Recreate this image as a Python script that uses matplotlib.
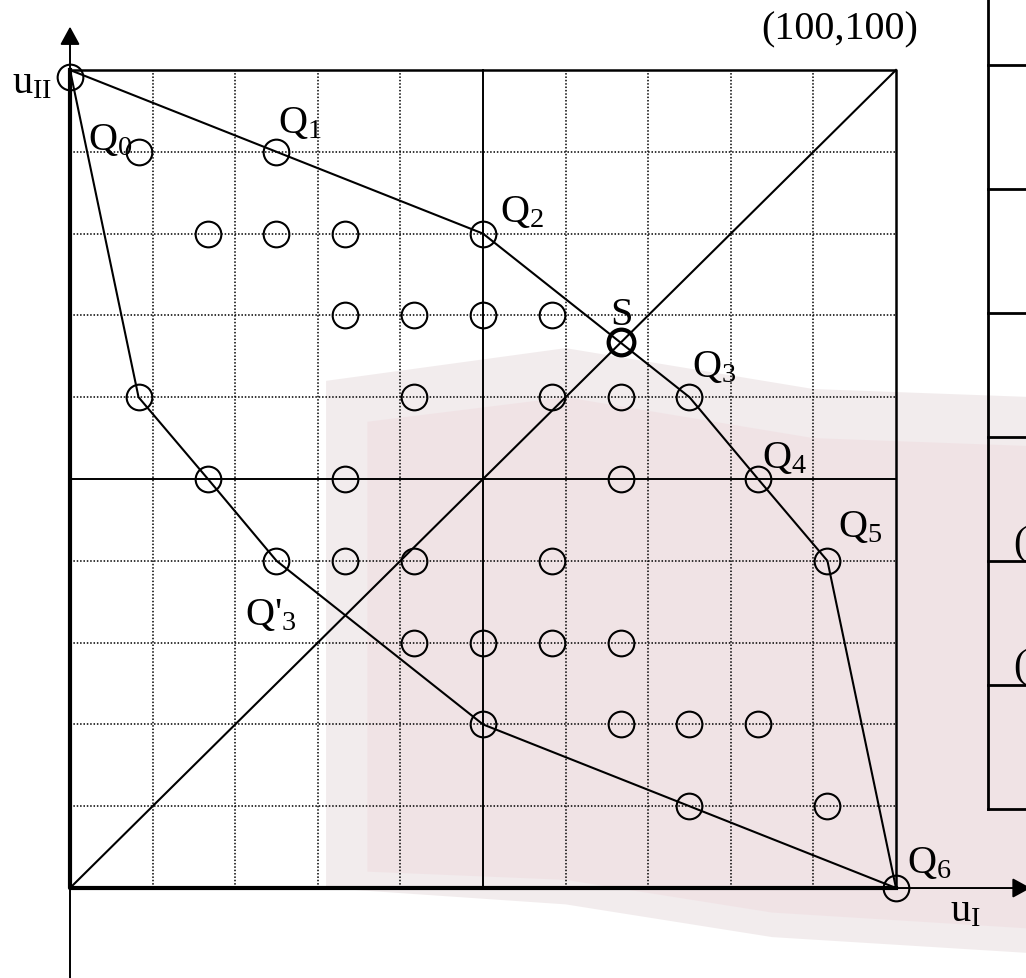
import matplotlib.pyplot as plt
import numpy as np
from matplotlib.patches import Polygon

plt.rcParams['font.family'] = ['Liberation Serif', 'DejaVu Serif']
plt.rcParams['mathtext.fontset'] = 'custom'
plt.rcParams['mathtext.rm'] = 'Liberation Serif'
plt.rcParams['mathtext.it'] = 'Liberation Serif:italic'

# lattice points (u_I, u_II) marked with circles
pts_x = [0, 8.3, 25,
         16.7, 25, 33.3, 50,
         33.3, 41.7, 50, 58.3,
         8.3, 41.7, 58.3, 66.7, 75,
         16.7, 33.3, 66.7, 83.3,
         25, 33.3, 41.7, 58.3, 91.7,
         41.7, 50, 58.3, 66.7,
         50, 66.7, 75, 83.3,
         75, 91.7,
         100]
pts_y = [99.2, 90, 90,
         80, 80, 80, 80,
         70, 70, 70, 70,
         60, 60, 60, 60, 60,
         50, 50, 50, 50,
         40, 40, 40, 40, 40,
         30, 30, 30, 30,
         20, 20, 20, 20,
         10, 10,
         0]

# point S on the diagonal
s_x = 66.7
s_y = 66.7

# boundary: u_II -> Q1 -> Q2 -> Q3 -> Q4 -> Q5 -> Q6 -> ... -> u_II
hull_x = [0, 25, 50, 75, 83.3, 91.7, 100, 75, 50, 25, 16.7, 8.3, 0]
hull_y = [100, 90, 80, 60, 50, 40, 0, 10, 20, 40, 50, 60, 100]

names = ['Q$_0$', 'Q$_1$', 'Q$_2$', 'Q$_3$', 'Q$_4$', 'Q$_5$', 'Q$_6$', "Q'$_3$", 'S']
name_x = [2.2, 25.2, 52.1, 75.3, 83.8, 93.0, 101.3, 21.2, 66.8]
name_y = [90.3, 92.4, 81.5, 62.6, 51.5, 43.0, 1.9, 32.3, 68.9]

fig = plt.figure(figsize=(10.26, 9.79), dpi=100)
ax = fig.add_axes([0, 0, 1, 1])
ax.set_xlim(-8.475, 115.74)
ax.set_ylim(-11.0, 108.68)
ax.axis('off')

# faint pinkish backdrop behind the lower right part, two soft layers
ax.add_patch(Polygon([(31, 62), (60, 66), (90, 61), (117, 60), (117, -8),
                      (85, -6), (60, -2), (31, 0)],
                     closed=True, facecolor='#e3d6d8', alpha=0.45,
                     edgecolor='none', zorder=0))
ax.add_patch(Polygon([(36, 57), (60, 60), (90, 55), (117, 54), (117, -5),
                      (85, -3), (60, 1), (36, 2)],
                     closed=True, facecolor='#f0dde1', alpha=0.6,
                     edgecolor='none', zorder=0))

# dotted grid, solid centre lines
dots = (0, (1, 1.2))
for v in range(10, 100, 10):
    if v == 50:
        ax.plot([v, v], [0, 100], color='k', lw=1.4)
        ax.plot([0, 100], [v, v], color='k', lw=1.4)
    else:
        ax.plot([v, v], [0, 100], color='k', lw=1.1, ls=dots)
        ax.plot([0, 100], [v, v], color='k', lw=1.1, ls=dots)

# frame
ax.plot([0, 100, 100], [100, 100, 0], color='k', lw=1.8, solid_capstyle='projecting')
ax.plot([0, 0, 100], [100, 0, 0], color='k', lw=3, solid_capstyle='projecting')

# axes with arrows
arr = dict(arrowstyle='-|>,head_length=0.55,head_width=0.3', mutation_scale=20,
           lw=1.4, color='k', shrinkA=0, shrinkB=0)
ax.annotate('', xy=(0, 105.3), xytext=(0, -11.5), arrowprops=arr, annotation_clip=False)
ax.annotate('', xy=(116.3, 0), xytext=(0, 0), arrowprops=arr, annotation_clip=False)

# diagonal and boundary
ax.plot([0, 100], [0, 100], color='k', lw=1.5)
ax.plot(hull_x, hull_y, color='k', lw=1.5)

ax.plot(pts_x, pts_y, 'o', ms=18.5, mfc='none', mec='k', mew=1.5)
ax.plot([s_x], [s_y], 'o', ms=18.5, mfc='none', mec='k', mew=3)

fs = 29
for t, x, y in zip(names, name_x, name_y):
    ha = 'center' if t == 'S' else 'left'
    ax.text(x, y, t, fontsize=fs, ha=ha, va='baseline')

ax.text(-7.0, 97.3, r'u$_{\mathrm{II}}$', fontsize=fs, ha='left', va='baseline')
ax.text(106.5, -4.0, r'u$_{\mathrm{I}}$', fontsize=fs, ha='left', va='baseline')
ax.text(93.2, 103.9, '(100,100)', fontsize=fs, ha='center', va='baseline')

# table on the right
tx = 111.14
ax.plot([tx, tx], [9.66, 110], color='k', lw=2)
for k in range(7):
    yy = 9.66 + k * 15.16
    ax.plot([tx, 120], [yy, yy], color='k', lw=2)
ax.text(114.2, 42.05, '(', fontsize=fs, ha='left', va='center')
ax.text(114.2, 27.0, '(', fontsize=fs, ha='left', va='center')

plt.savefig('out.png', dpi=100)
